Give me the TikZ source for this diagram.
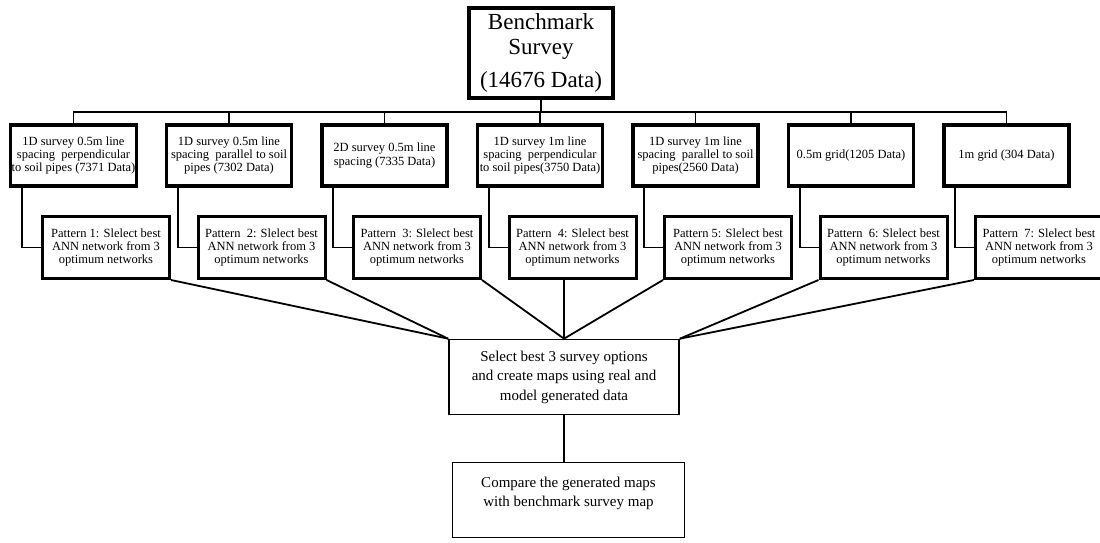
\documentclass[tikz,border=0pt]{standalone}
\usepackage{fontspec}
\setmainfont{Liberation Serif}
\usetikzlibrary{positioning}

\begin{document}
\begin{tikzpicture}[x=1pt,y=-1pt,line width=1.8pt,node distance=155.5pt,
headbox/.style={draw,line width=3.5pt,minimum width=144pt,minimum height=90pt,align=center,font=\fontsize{23}{25}\selectfont},
surveybox/.style={draw,line width=3.5pt,minimum width=125pt,minimum height=61pt,inner sep=1pt,align=center,font=\fontsize{12.5}{13.4}\selectfont},
annbox/.style={draw,line width=3pt,minimum width=127pt,minimum height=62pt,inner sep=1pt,align=center,font=\fontsize{12.5}{13.4}\selectfont},
mapbox/.style={draw,line width=1.6pt,minimum width=230pt,minimum height=75pt,align=center,font=\fontsize{15}{19.5}\selectfont},]
\useasboundingbox (0,0) rectangle (1100,542);
\node[headbox] at (541,53)(bench){Benchmark\\Survey\\[8pt](14676 Data)};

% survey options
\node[surveybox] at (73.5,155.5)(s1){1D survey 0.5m line\\spacing\ \ perpendicular\\to soil pipes (7371 Data)};
\node[surveybox][right of=s1](s2){1D survey 0.5m line\\spacing\ \ parallel to soil\\pipes (7302 Data)};
\node[surveybox][right of=s2](s3){2D survey 0.5m line\\spacing (7335 Data)};
\node[surveybox][right of=s3](s4){1D survey 1m line\\spacing\ \ perpendicular\\to soil pipes(3750 Data)};
\node[surveybox][right of=s4](s5){1D survey 1m line\\spacing\ \ parallel to soil\\pipes(2560 Data)};
\node[surveybox][right of=s5](s6){0.5m grid(1205 Data)};
\node[surveybox][right of=s6](s7){1m grid (304 Data)};

% ANN patterns
\node[annbox] at (106,247.5)(p1){Pattern 1: Slelect best\\ANN network from 3\\optimum networks};
\node[annbox][right of=p1](p2){Pattern\ \ 2: Slelect best\\ANN network from 3\\optimum networks};
\node[annbox][right of=p2](p3){Pattern\ \ 3: Slelect best\\ANN network from 3\\optimum networks};
\node[annbox][right of=p3](p4){Pattern\ \ 4: Slelect best\\ANN network from 3\\optimum networks};
\node[annbox][right of=p4](p5){Pattern 5: Slelect best\\ANN network from 3\\optimum networks};
\node[annbox][right of=p5](p6){Pattern\ \ 6: Slelect best\\ANN network from 3\\optimum networks};
\node[annbox][right of=p6](p7){Pattern\ \ 7: Slelect best\\ANN network from 3\\optimum networks};

\node[mapbox] at (564,377)(sel){Select best 3 survey options\\and create maps using real and\\model generated data};
\node[mapbox] at (568.5,500)(cmp){\parbox[c][46pt][t]{225pt}{\centering Compare the generated maps\\with benchmark survey map}};

\draw (bench.south) -- ++(0,12) coordinate(bus);
\draw (s1.north) |- (bus) (s2.north) |- (bus) (s3.north) |- (bus) (s4.north) |- (bus)
      (s5.north) |- (bus) (s6.north) |- (bus) (s7.north) |- (bus);

\draw ([xshift=13pt]s1.south west) |- (p1.west);
\draw ([xshift=13pt]s2.south west) |- (p2.west);
\draw ([xshift=13pt]s3.south west) |- (p3.west);
\draw ([xshift=13pt]s4.south west) |- (p4.west);
\draw ([xshift=13pt]s5.south west) |- (p5.west);
\draw ([xshift=13pt]s6.south west) |- (p6.west);
\draw ([xshift=13pt]s7.south west) |- (p7.west);

\path (p1.south east) edge (sel.north west)
      (p2.south east) edge (sel.north west)
      (p3.south east) edge (sel.north)
      (sel.north |- p4.south) edge (sel.north)
      (p5.south west) edge (sel.north)
      (p6.south west) edge (sel.north east)
      (p7.south west) edge (sel.north east)
      (sel.south) edge (sel.south |- cmp.north)
;
\end{tikzpicture}
\end{document}
